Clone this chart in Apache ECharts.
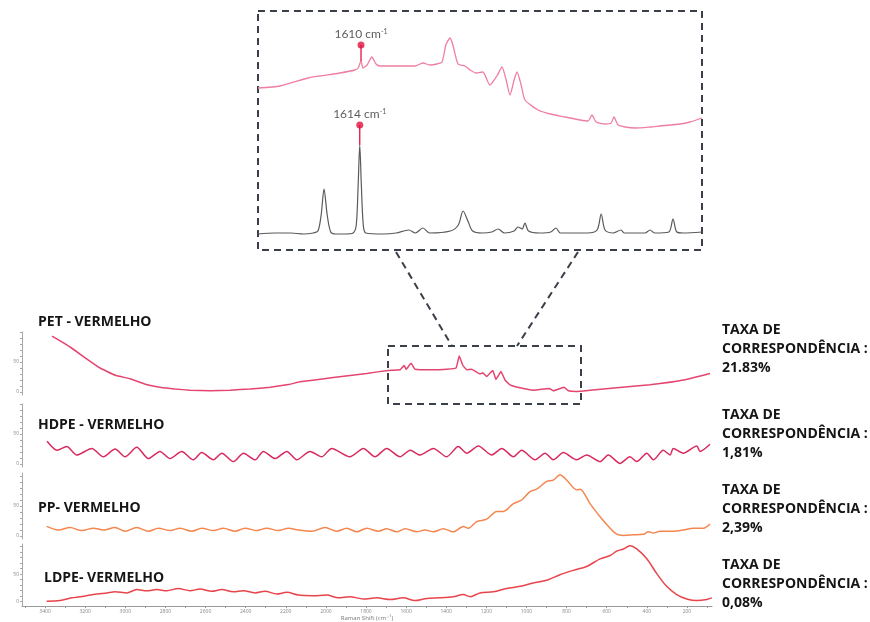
<!DOCTYPE html>
<html><head><meta charset="utf-8">
<script src="https://cdn.jsdelivr.net/npm/echarts@6/dist/echarts.min.js"></script>
<style>html,body{margin:0;padding:0;background:#fff}#c{width:870px;height:622px}</style>
</head><body><div id="c"></div>
<script>
// ---------- data ----------
const ramanTicks = [3400,3200,3000,2800,2600,2400,2200,2000,1800,1600,1400,1200,1000,800,600,400,200];
const ramanMinorTicks = [3500,3400,3300,3200,3100,3000,2900,2800,2700,2600,2500,2400,2300,2200,2100,2000,1900,1800,1700,1600,1500,1400,1300,1200,1100,1000,900,800,700,600,500,400,300,200,100];
const yLabelTicks = [0,50];
const yMinorTicks = [0,10,20,30,40,50,60,70,80,90,100];
const panelNames = ['PET - VERMELHO','HDPE - VERMELHO','PP- VERMELHO','LDPE- VERMELHO'];
const matchRates = ['21.83%','1,81%','2,39%','0,08%'];
const matchTitle = ['TAXA DE','CORRESPONDÊNCIA :'];

const petShift = [3365,3275,3200,3126,3050,2976,2900,2827,2752,2677,2577,2478,2378,2278,2179,2129,1963,1796,1689,1630,1610,1600,1575,1556,1464,1398,1351,1335,1318,1298,1273,1232,1218,1198,1168,1152,1127,1107,1082,1032,966,886,866,813,791,750,683,550,384,218,85];
const petValue = [93,75,57,40,28,22,13,8,5,3,2,3,5,8,13,17,24,31,36,37,44,38,48,38,37,38,40,60,45,37,38,30,32,26,36,21,34,20,12,7,3,6,2,8,2,1,3,7,12,20,31];

const hdpeShift = [3390,3340,3292,3242,3167,3109,3051,3001,2943,2885,2827,2777,2719,2661,2619,2561,2519,2461,2411,2353,2312,2253,2195,2145,2079,2021,1971,1880,1813,1755,1697,1630,1580,1531,1464,1398,1340,1298,1240,1173,1123,1065,1024,957,907,866,816,750,700,633,592,534,484,450,400,367,318,284,268,218,151,135,85];
const hdpeValue = [38,23,29,15,26,12,25,12,28,9,21,9,21,7,19,7,18,4,18,7,21,9,21,7,21,12,26,12,26,12,26,12,23,15,26,12,29,18,30,15,26,12,23,7,18,7,19,7,15,4,15,1,12,4,18,7,23,15,26,18,30,21,33];

const ppShift = [3392,3334,3275,3217,3159,3109,3051,3001,2943,2885,2835,2777,2727,2669,2619,2561,2511,2453,2403,2345,2295,2237,2187,2137,2070,2004,1946,1896,1846,1796,1738,1697,1647,1605,1547,1506,1464,1414,1365,1315,1290,1248,1198,1148,1115,1065,1024,982,949,899,866,833,799,749,733,683,633,583,550,517,467,417,392,367,334,268,218,168,118,85];
const ppValue = [16,10,14,9,13,10,14,8,14,8,13,9,13,8,13,9,13,8,13,9,13,9,13,10,8,14,8,13,7,13,8,12,7,12,7,10,7,12,7,16,13,24,28,41,41,54,60,74,78,91,93,102,93,77,78,54,32,13,3,1,2,3,7,5,8,8,10,13,13,20];

const ldpeShift = [3392,3325,3267,3226,3176,3142,3092,3051,2993,2943,2893,2843,2793,2736,2677,2627,2569,2519,2461,2411,2353,2303,2245,2195,2137,2063,1996,1938,1880,1813,1746,1680,1614,1556,1497,1431,1365,1315,1281,1232,1165,1099,1032,966,899,833,766,700,633,583,550,517,484,450,400,350,301,251,201,151,101,76];
const ldpeValue = [1,2,7,9,12,14,16,18,16,22,20,22,20,24,20,23,19,22,18,20,16,19,14,17,12,11,12,7,9,5,7,4,7,2,6,7,9,13,9,16,18,24,28,34,39,49,57,64,78,84,92,96,102,96,78,51,28,13,5,2,4,7];

const insetPinkShift = [1933,1864,1776,1739,1676,1629,1619,1610,1604,1591,1576,1563,1550,1488,1441,1416,1394,1372,1356,1344,1331,1322,1306,1284,1268,1249,1228,1206,1184,1168,1155,1143,1130,1121,1108,1096,1055,1017,970,923,898,886,873,845,826,817,804,782,751,704,673,610,579,541];
const insetPinkValue = [42,44,52,54,57,60,62,69,62,65,73,66,64,64,64,67,65,66,68,85,92,85,66,64,60,57,58,45,54,63,50,35,50,58,45,30,20,16,13,10,9,15,8,6,7,13,5,3,2,3,4,6,8,12];

const insetGrayShift = [1933,1880,1830,1790,1760,1745,1735,1726,1716,1705,1690,1660,1635,1625,1619,1614,1609,1603,1595,1540,1500,1460,1440,1416,1395,1330,1305,1290,1275,1260,1230,1200,1180,1160,1130,1118,1105,1096,1085,1050,1015,999,985,900,870,857,845,820,795,785,720,704,690,645,632,620,600,541];
const insetGrayValue = [1,2,2,1,2,4,20,46,20,3,1,1,2,10,50,90,50,10,2,1,2,5,2,7,2,4,10,24,14,4,2,3,6,2,4,8,6,12,4,2,3,7,2,2,5,21,5,2,5,2,2,5,2,3,16,3,2,3];

const markerShift = [1610, 1614];
const markerDotValue = [85, 110];
const markerPeakValue = [69, 90];

// ---------- layout / style ----------
const pair = (xs, ys) => xs.map((x, i) => [x, ys[i]]);
const PX = 0.6;
const panels = [
  {top:332, min:-5, max:100, color:'#e4456f', smooth:0.1, data:pair(petShift, petValue)},
  {top:404, min:-5, max:100, color:'#d92a5e', smooth:0.25, data:pair(hdpeShift, hdpeValue)},
  {top:473, min:-5, max:105, color:'#f3874f', smooth:0.3, data:pair(ppShift, ppValue)},
  {top:544, min:-8, max:105, color:'#e8444b', smooth:0.3, data:pair(ldpeShift, ldpeValue)}
];
const X_MIN = 75, X_MAX = 3515;
const leftLabelPos = [[38,322],[38,425],[38,508],[44,578]];
const rightLabelY = [330, 415, 490, 565];
const FONT = '"Open Sans", "DejaVu Sans", sans-serif';

const grids = [], xAxes = [], yAxes = [], series = [];
panels.forEach((p, i) => {
  grids.push({left:22, width:690, top:p.top, height:(p.max - p.min) * PX});
  xAxes.push({
    type:'value', gridIndex:i, inverse:true, min:X_MIN, max:X_MAX,
    show: i === 3,
    splitLine:{show:false},
    axisLine:{show:true, onZero:false, lineStyle:{color:'#9a9a9a', width:1}},
    axisTick:{show:true, customValues:ramanMinorTicks, length:2, lineStyle:{color:'#9a9a9a'}},
    axisLabel:{show:true, customValues:ramanTicks, fontSize:5, color:'#888', margin:3, fontFamily:FONT,
      formatter:(v) => String(v)},
    name: i === 3 ? 'Raman Shift (cm⁻¹)' : '',
    nameLocation:'middle', nameGap:8, nameTextStyle:{fontSize:6, color:'#777', fontFamily:FONT}
  });
  yAxes.push({
    type:'value', gridIndex:i, min:p.min, max:p.max,
    splitLine:{show:false},
    axisLine:{show:true, lineStyle:{color:'#a8a8a8', width:1}},
    axisTick:{show:true, customValues:yMinorTicks, length:2, lineStyle:{color:'#a8a8a8'}},
    axisLabel:{show:true, customValues:yLabelTicks, fontSize:5, color:'#888', margin:3, fontFamily:FONT,
      formatter:(v) => String(v)}
  });
  series.push({
    type:'line', xAxisIndex:i, yAxisIndex:i, data:p.data, symbol:'none',
    smooth:p.smooth, lineStyle:{color:p.color, width:1.5}, silent:true, animation:false
  });
});

// inset grids
grids.push({left:258, width:444, top:30, height:100});   // pink inset
grids.push({left:258, width:444, top:120, height:115});  // gray inset
[4,5].forEach((g, k) => {
  xAxes.push({type:'value', gridIndex:g, inverse:true, min:541, max:1933, show:false});
  yAxes.push({type:'value', gridIndex:g, min:0, max:k === 0 ? 100 : 115, show:false});
});
series.push({type:'line', xAxisIndex:4, yAxisIndex:4, data:pair(insetPinkShift, insetPinkValue), symbol:'none', smooth:0.2,
  lineStyle:{color:'#ef7fa0', width:1.3}, silent:true, animation:false});
series.push({type:'line', xAxisIndex:5, yAxisIndex:5, data:pair(insetGrayShift, insetGrayValue), symbol:'none', smooth:0.3,
  lineStyle:{color:'#5a5a5a', width:1.2}, silent:true, animation:false});

markerShift.forEach((s, k) => {
  const ax = 4 + k;
  series.push({type:'line', xAxisIndex:ax, yAxisIndex:ax, data:[[s, markerDotValue[k]],[s, markerPeakValue[k]]],
    symbol:'none', lineStyle:{color:'#e3123f', width:1.3}, silent:true, animation:false, z:3});
  series.push({type:'scatter', xAxisIndex:ax, yAxisIndex:ax, data:[[s, markerDotValue[k]]],
    symbol:'circle', symbolSize:7, itemStyle:{color:'#e3123f'}, silent:true, animation:false, z:4,
    label:{show:true, position:'top', distance:1,
      formatter:'{a|' + s + ' cm}{s|-1}',
      rich:{a:{fontSize:12, color:'#333', fontFamily:'Lato, "Open Sans", sans-serif'},
            s:{fontSize:7, color:'#333', verticalAlign:'top', fontFamily:'Lato, sans-serif'}}}});
});

// ---------- decorations ----------
const graphic = [];
const dash = {stroke:'#3b3f4a', lineWidth:2, lineDash:[7,5], fill:null};
graphic.push({type:'rect', shape:{x:258, y:11, width:444, height:239}, style:Object.assign({}, dash), silent:true});
graphic.push({type:'rect', shape:{x:388, y:346, width:193, height:58}, style:Object.assign({}, dash), silent:true});
graphic.push({type:'polyline', shape:{points:[[396,252],[452,346]]}, style:Object.assign({}, dash), silent:true});
graphic.push({type:'polyline', shape:{points:[[578,252],[517,346]]}, style:Object.assign({}, dash), silent:true});

panelNames.forEach((n, i) => {
  graphic.push({type:'text', x:leftLabelPos[i][0], y:leftLabelPos[i][1], silent:true,
    style:{text:n, fontSize:14, fontWeight:'bold', fontFamily:FONT, fill:'#151515', verticalAlign:'middle', align:'left'}});
  const lines = [matchTitle[0], matchTitle[1], matchRates[i]];
  const offs = [0, 19.5, 38.5];
  lines.forEach((t, j) => {
    graphic.push({type:'text', x:722, y:rightLabelY[i] + offs[j], silent:true,
      style:{text:t, fontSize:14, fontWeight:'bold', fontFamily:FONT, fill:'#151515', verticalAlign:'middle', align:'left'}});
  });
});

const chart = echarts.init(document.getElementById('c'));
chart.setOption({
  animation:false,
  backgroundColor:'#ffffff',
  grid:grids, xAxis:xAxes, yAxis:yAxes, series:series, graphic:graphic
});
</script>
</body></html>
